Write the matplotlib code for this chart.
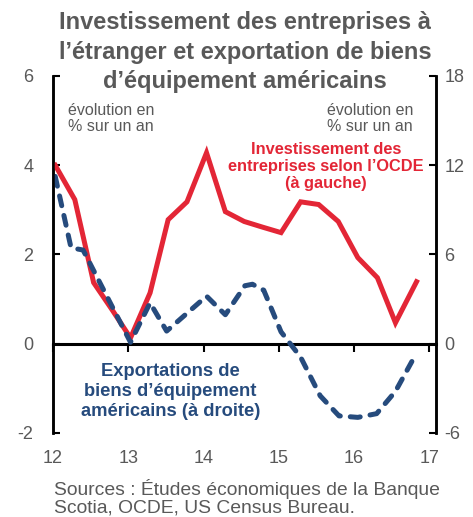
import matplotlib
matplotlib.use("Agg")
import matplotlib.pyplot as plt

plt.rcParams['font.family'] = ['Liberation Sans', 'DejaVu Sans']
plt.rcParams['axes.unicode_minus'] = False

# Investissement des entreprises (OCDE), % a/a, axe de gauche
invest_x = [12.03, 12.29, 12.54, 12.79, 13.03, 13.29, 13.53, 13.78, 14.04, 14.29,
            14.54, 14.79, 15.03, 15.29, 15.53, 15.79, 16.05, 16.31, 16.55, 16.83]
invest_y = [4.0, 3.23, 1.37, 0.75, 0.13, 1.14, 2.78, 3.18, 4.28, 2.96,
            2.74, 2.61, 2.49, 3.18, 3.12, 2.74, 1.93, 1.48, 0.47, 1.39]

# Exportations de biens d'équipement américains, % a/a, axe de droite
export_x = [12.03, 12.24, 12.40, 13.03, 13.29, 13.51, 14.04, 14.29, 14.55, 14.65,
            14.80, 15.03, 15.29, 15.55, 15.80, 16.05, 16.30, 16.55, 16.80]
export_y = [11.25, 6.45, 6.3, 0.1, 2.75, 0.85, 3.2, 1.95, 3.9, 4.0,
            3.6, 0.8, -0.9, -3.5, -4.85, -4.95, -4.7, -3.2, -0.9]

xticks = [12, 13, 14, 15, 16, 17]
left_ticks = [-2, 0, 2, 4, 6]
right_ticks = [-6, 0, 6, 12, 18]

RED = '#E32636'
BLUE = '#264B7D'
GREY = '#595959'

fig = plt.figure(figsize=(4.73, 5.17), dpi=100)
ax = fig.add_axes([0.112, 0.1625, 0.81, 0.6905])
ax2 = ax.twinx()

ax.plot(invest_x, invest_y, color=RED, lw=3.6, solid_joinstyle='miter', zorder=3)
ax2.plot(export_x, export_y, color=BLUE, lw=3.6, dashes=(2.0, 2.0),
         dash_capstyle='round', zorder=2)

ax.set_xlim(12, 17.09)
ax.set_ylim(-2, 6)
ax2.set_ylim(-6, 18)

for a in (ax, ax2):
    a.spines['top'].set_visible(False)
    a.spines['bottom'].set_visible(False)
    a.spines['left'].set_linewidth(1.8)
    a.spines['right'].set_linewidth(1.8)

ax.set_yticks(left_ticks)
ax2.set_yticks(right_ticks)
ax.tick_params(axis='y', direction='in', length=5, width=1.5, labelsize=13,
               labelcolor=GREY, pad=14)
ax2.tick_params(axis='y', direction='in', length=5, width=1.5, labelsize=13,
                labelcolor=GREY, pad=6)

# zero line with ticks pointing down
ax.set_xticks(xticks)
ax.tick_params(axis='x', direction='out', length=6, width=1.5, labelbottom=False)
ax.spines['bottom'].set_visible(True)
ax.spines['bottom'].set_position(('data', 0))
ax.spines['bottom'].set_linewidth(2.2)
ax.spines['bottom'].set_zorder(4)

sec = ax.secondary_xaxis(0)
sec.set_xticks(xticks)
sec.tick_params(length=0, labelsize=13, labelcolor=GREY, pad=12)
sec.spines['bottom'].set_visible(False)

fig.text(0.518, 0.899, "Investissement des entreprises à\nl’étranger et exportation de biens\nd’équipement américains",
         ha='center', va='center', fontsize=17, fontweight='bold', color=GREY,
         linespacing=1.36)

ax.text(0.04, 0.925, "évolution en\n% sur un an", transform=ax.transAxes,
        ha='left', va='top', fontsize=11.5, color=GREY, linespacing=1.12)
ax.text(0.94, 0.925, "évolution en\n% sur un an", transform=ax.transAxes,
        ha='right', va='top', fontsize=11.5, color=GREY, linespacing=1.12)

ax.text(15.63, 3.97, "Investissement des\nentreprises selon l’OCDE\n(à gauche)",
        ha='center', va='center', fontsize=11.8, fontweight='bold', color=RED,
        linespacing=1.15)
ax.text(13.56, -1.07, "Exportations de\nbiens d’équipement\naméricains (à droite)",
        ha='center', va='center', fontsize=13.2, fontweight='bold', color=BLUE,
        linespacing=1.25)

fig.text(0.115, 0.0377, "Sources : Études économiques de la Banque\nScotia, OCDE, US Census Bureau.",
         ha='left', va='center', fontsize=13.9, color=GREY, linespacing=1.05)

fig.savefig("out.png", dpi=100)
